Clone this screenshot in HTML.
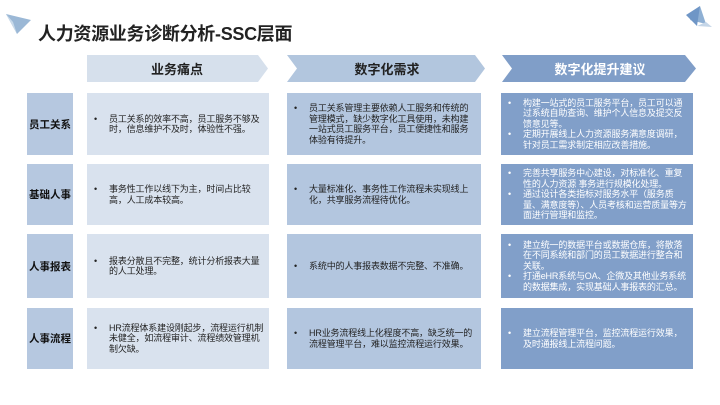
<!DOCTYPE html>
<html><head><meta charset="utf-8">
<style>
*{margin:0;padding:0;box-sizing:border-box}
body{width:720px;height:405px;background:#fff;position:relative;overflow:hidden;font-family:"Liberation Sans","Noto Sans CJK SC",sans-serif}
.t{position:absolute;left:38px;top:20px;font-size:18px;font-weight:bold;color:#222;letter-spacing:-0.3px}
.lab{position:absolute;left:27px;width:46px;background:#b6c8e0;display:flex;align-items:center;justify-content:center;font-size:10.5px;font-weight:bold;color:#111}
.box{position:absolute;display:flex;align-items:center;font-size:9px;line-height:10.5px;color:#222;letter-spacing:-0.15px}
.c1{left:87px;width:182px;background:#d9e2ee}
.c2{left:287px;width:194px;background:#b3c6df}
.c3{left:501px;width:192px;background:#819fc9;color:#fff}
.c3 ul{padding-right:3px}
ul{list-style:none;padding-left:22px;padding-right:5px}
li{position:relative}
li:before{content:"•";position:absolute;left:-15px}
.h{position:absolute;top:55px;height:27px;display:flex;align-items:center;justify-content:center;font-size:13px;font-weight:bold}
</style></head><body>
<svg width="720" height="405" style="position:absolute;left:0;top:0">
<polygon points="6,14 31,20 17,34" fill="#9bb8d6"/>
<polygon points="6,14 17,34 13,22" fill="#c9daea"/>
<polygon points="700,6 706,24 690,20" fill="#8fb0d4"/>
<polygon points="686,15 700,6 697,26" fill="#6f96c6"/>
<polygon points="697,26 712,27 706,22" fill="#c5d6e8"/>
<polygon points="87,55 258,55 268,68.5 258,82 87,82" fill="#d6e0ec"/>
<polygon points="287,55 475,55 485,68.5 475,82 287,82 297,68.5" fill="#b2c6de"/>
<polygon points="502,55 685,55 696,68.5 685,82 502,82 512,68.5" fill="#809ec8"/>
</svg>
<div class="t">人力资源业务诊断分析-SSC层面</div>
<div class="h" style="left:87px;width:180px;color:#222">业务痛点</div>
<div class="h" style="left:292px;width:190px;color:#222">数字化需求</div>
<div class="h" style="left:507px;width:186px;color:#fff">数字化提升建议</div>

<div class="lab" style="top:93px;height:62px">员工关系</div>
<div class="box c1" style="top:93px;height:62px"><ul><li>员工关系的效率不高，员工服务不够及时，信息维护不及时，体验性不强。</li></ul></div>
<div class="box c2" style="top:93px;height:62px"><ul><li>员工关系管理主要依赖人工服务和传统的管理模式，缺少数字化工具使用，未构建一站式员工服务平台，员工便捷性和服务体验有待提升。</li></ul></div>
<div class="box c3" style="top:93px;height:62px"><ul><li>构建一站式的员工服务平台，员工可以通过系统自助查询、维护个人信息及提交反馈意见等。</li><li>定期开展线上人力资源服务满意度调研，针对员工需求制定相应改善措施。</li></ul></div>

<div class="lab" style="top:164px;height:61px">基础人事</div>
<div class="box c1" style="top:164px;height:61px"><ul><li>事务性工作以线下为主，时间占比较高，人工成本较高。</li></ul></div>
<div class="box c2" style="top:164px;height:61px"><ul><li>大量标准化、事务性工作流程未实现线上化，共享服务流程待优化。</li></ul></div>
<div class="box c3" style="top:164px;height:61px"><ul><li>完善共享服务中心建设，对标准化、重复性的人力资源 事务进行规模化处理。</li><li>通过设计各类指标对服务水平（服务质量、满意度等）、人员考核和运营质量等方面进行管理和监控。</li></ul></div>

<div class="lab" style="top:234px;height:64px">人事报表</div>
<div class="box c1" style="top:234px;height:64px"><ul><li>报表分散且不完整，统计分析报表大量的人工处理。</li></ul></div>
<div class="box c2" style="top:234px;height:64px"><ul><li>系统中的人事报表数据不完整、不准确。</li></ul></div>
<div class="box c3" style="top:234px;height:64px"><ul><li>建立统一的数据平台或数据仓库，将散落在不同系统和部门的员工数据进行整合和关联。</li><li>打通eHR系统与OA、企微及其他业务系统的数据集成，实现基础人事报表的汇总。</li></ul></div>

<div class="lab" style="top:308px;height:61px">人事流程</div>
<div class="box c1" style="top:308px;height:61px"><ul><li>HR流程体系建设刚起步，流程运行机制未健全，如流程审计、流程绩效管理机制欠缺。</li></ul></div>
<div class="box c2" style="top:308px;height:61px"><ul><li>HR业务流程线上化程度不高，缺乏统一的流程管理平台，难以监控流程运行效果。</li></ul></div>
<div class="box c3" style="top:308px;height:61px"><ul><li>建立流程管理平台，监控流程运行效果，及时通报线上流程问题。</li></ul></div>
</body></html>
